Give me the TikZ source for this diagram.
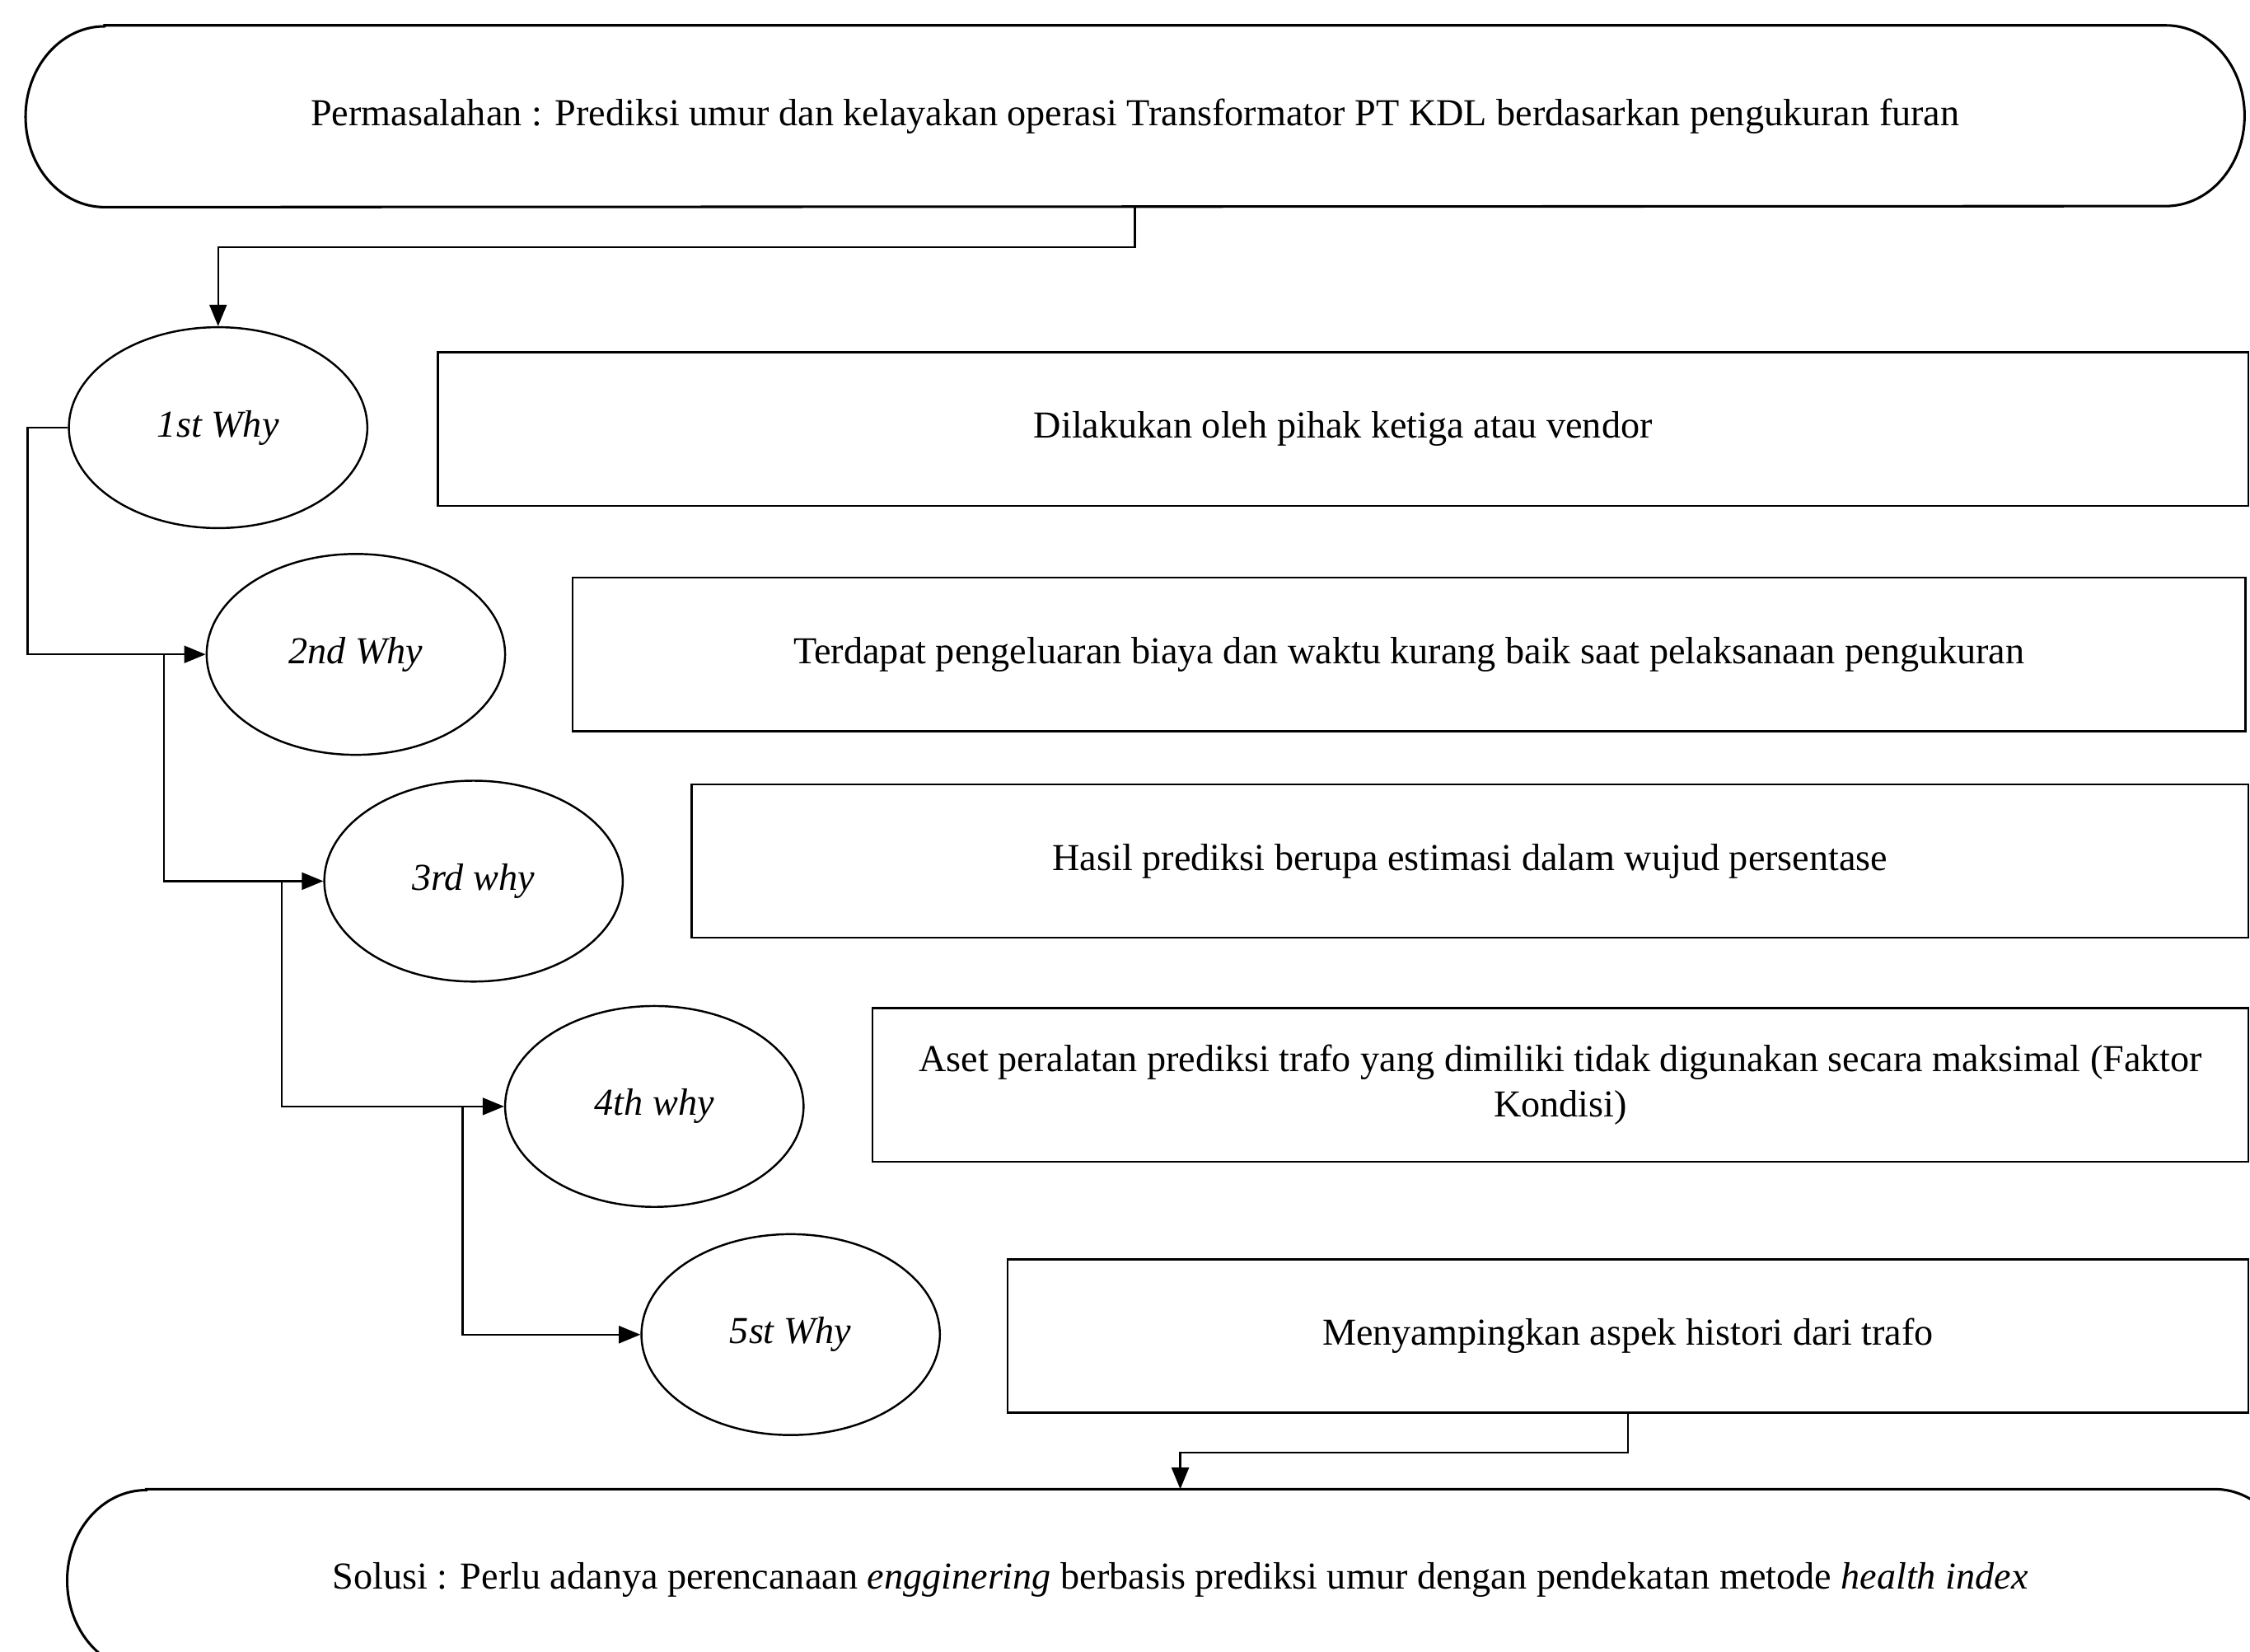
\documentclass[tikz,border=0pt]{standalone}
\usepackage{fontspec}
\setmainfont{Liberation Serif}
\usetikzlibrary{shapes.geometric,arrows.meta}
\begin{document}
\begin{tikzpicture}[x=0.02cm,y=-0.02cm,font=\fontsize{15.1}{18.2}\selectfont,
	arr/.style={-{Triangle[length=0.3cm,width=0.24cm]},line width=0.8pt},
	why/.style={draw,ellipse,line width=0.8pt,minimum width=4.16cm,minimum height=2.8cm,inner sep=0pt,font=\fontsize{15.1}{18.2}\selectfont\itshape},
	alasan/.style={draw,rectangle,line width=0.8pt,minimum height=2.14cm,inner sep=0pt,align=center},
	kapsul/.style={rectangle,minimum height=2.52cm,inner sep=0pt}]
	\useasboundingbox (0,0) rectangle (1568,1151);
	% masalah dan solusi
	\node[kapsul,minimum width=30.92cm] (masalah) at(791,81){Permasalahan : Prediksi umur dan kelayakan operasi Transformator PT KDL berdasarkan pengukuran furan};
	\node[kapsul,minimum width=31.02cm] (solusi) at(822.5,1101){Solusi : Perlu adanya perencanaan \textit{engginering} berbasis prediksi umur dengan pendekatan metode \textit{health index}};
	\foreach \n in {masalah,solusi}{
		\draw[line width=1pt] ([xshift=1.1cm]\n.north west)--([xshift=-1.1cm]\n.north east)
			arc[start angle=90,end angle=-90,x radius=1.1cm,y radius=1.26cm]
			--([xshift=1.1cm]\n.south west)
			arc[start angle=270,end angle=90,x radius=1.1cm,y radius=1.26cm]--cycle;
	}
	% why
	\foreach \i/\x/\y/\t in {1/152/298/1st Why,2/248/456/2nd Why,3/330/614/3rd why,4/456/771/4th why,5/551/930/5st Why}{
		\node[why] (e\i) at(\x,\y){\t};
	}
	% alasan
	\node[alasan,minimum width=25.24cm] (b1) at(936,299){Dilakukan oleh pihak ketiga atau vendor};
	\node[alasan,minimum width=23.32cm] (b2) at(982,456){Terdapat pengeluaran biaya dan waktu kurang baik saat pelaksanaan pengukuran};
	\node[alasan,minimum width=21.7cm] (b3) at(1024.5,600){Hasil prediksi berupa estimasi dalam wujud persentase};
	\node[alasan,minimum width=19.18cm] (b4) at(1087.5,756){Aset peralatan prediksi trafo yang dimiliki tidak digunakan secara maksimal (Faktor\\Kondisi)};
	\node[alasan,minimum width=17.3cm] (b5) at(1134.5,931){Menyampingkan aspek histori dari trafo};
	% panah
	\draw[arr] (masalah.south)--++(0,28)-|(e1.north);
	\draw[arr] (e1.west)--++(-28,0)|-(e2.west);
	\foreach \a/\b in {e2/e3,e3/e4,e4/e5}{
		\draw[arr] (\a.west)++(-29,0)|-(\b.west);
	}
	\draw[arr] (b5.south)--++(0,27)-|(solusi.north);
\end{tikzpicture}
\end{document}
